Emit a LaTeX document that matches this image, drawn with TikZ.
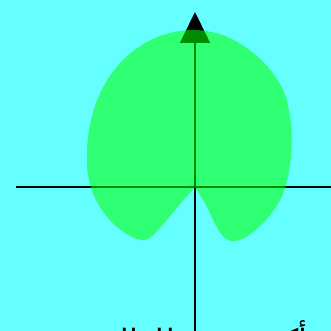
\documentclass[tikz,border=0pt]{standalone}
\usepackage{fontspec}
\newfontfamily\arabicfont[Script=Arabic]{DejaVu Sans}
\TeXXeTstate=1
\usepackage{tikz}
\usetikzlibrary{arrows.meta,positioning}

\definecolor{skycyan}{RGB}{102,255,255}
\definecolor{leafgreen}{RGB}{0,255,0}

\begin{document}
\begin{tikzpicture}[
    x=1pt, y=-1pt,
    axis/.style={line width=1.6pt, black},
    blob/.style={fill=leafgreen, fill opacity=0.55},
    caption/.style={font=\arabicfont\fontsize{32}{38}\selectfont, anchor=base}
]

% Background
\fill[skycyan] (0,0) rectangle (331,331);
\useasboundingbox (0,0) rectangle (331,331);

% Axes
\coordinate (origin) at (195,187);
\coordinate (xstart) at (16,187);
\coordinate (xend) at (340,187);
\coordinate (ytop) at (195,12);
\coordinate (ybottom) at (195,340);
\draw[axis] (xstart) -- (xend);
\draw[axis, -{Triangle[length=31pt,width=30pt]}] (ybottom) -- (ytop);

% Curve
\fill[blob] plot[smooth, tension=0.6] coordinates {
    (195,187) (181,203) (165,222) (152,236) (141,240) (125,233)
    (108,218) (95,198) (88,175) (87,150) (90,125) (98,98)
    (112,73) (132,52) (160,36) (193,30) (225,36) (252,52)
    (272,72) (285,95) (291,125) (291,155) (286,185) (276,207)
    (260,226) (244,238) (231,241) (222,235) (214,222) (206,205)
    (195,187)} -- cycle;

% Caption
\node[caption] (title) at (205,352) {\beginR أكبر قيمة للدالة\endR};

\end{tikzpicture}
\end{document}
